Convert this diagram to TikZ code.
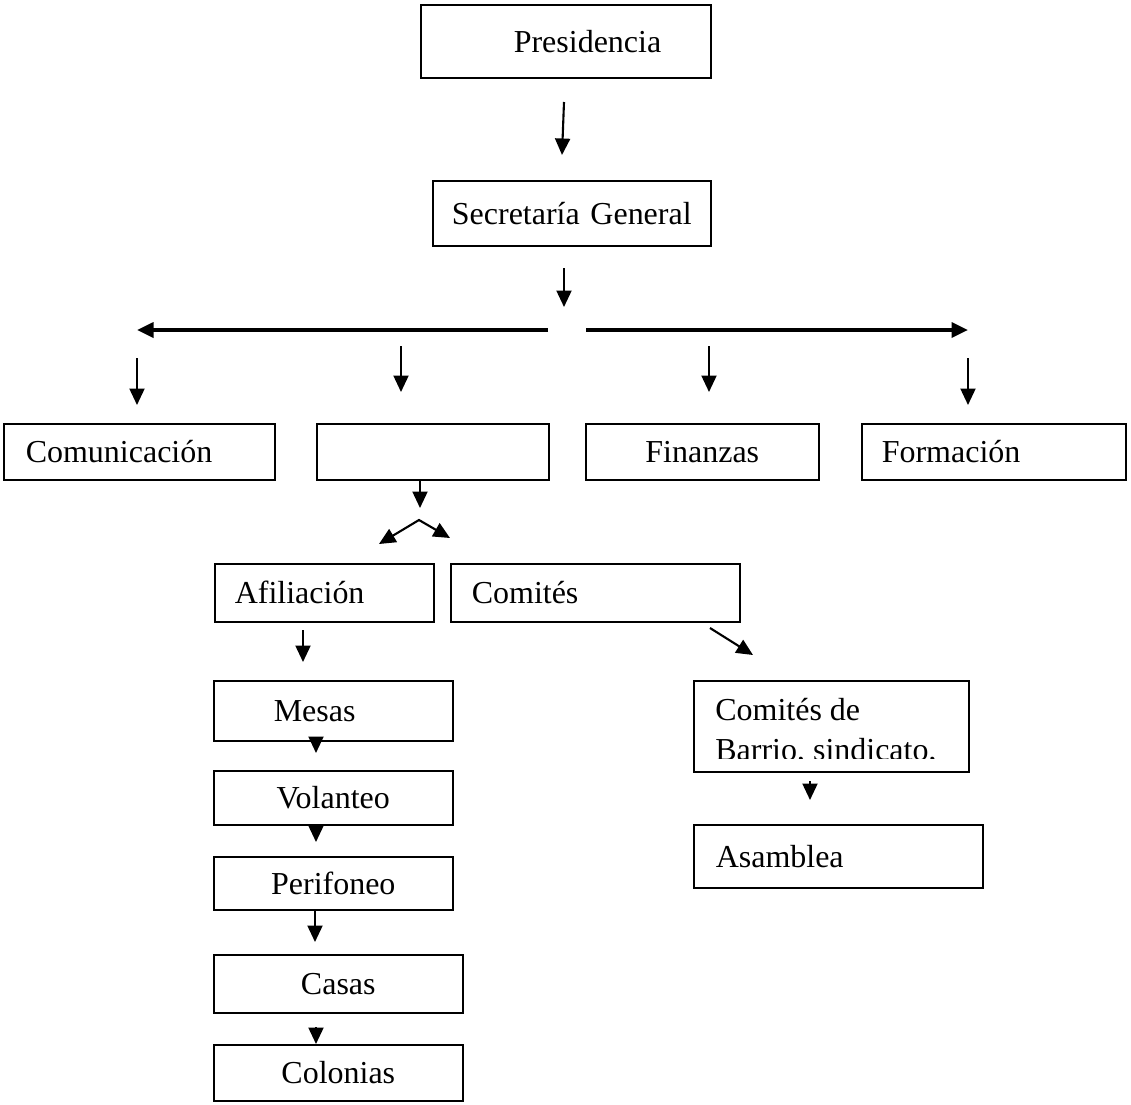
\documentclass[tikz,border=0pt]{standalone}
\usepackage{fontspec}
\setmainfont{Liberation Serif}
\usetikzlibrary{arrows.meta}
\tikzset{
  >={Triangle[width=3mm,length=3.3mm]},
  every node/.style={font=\fontsize{18.2}{23}\selectfont,text=black},
  box/.style={draw=black,line width=0.9pt,anchor=north west,inner ysep=0pt,align=left},
  cbox/.style={box,align=center},
  arr/.style={->,line width=1.2pt},
  bigarr/.style={->,line width=1.9pt}
}
\begin{document}
\begin{tikzpicture}[x=0.2mm,y=-0.2mm]
  \useasboundingbox (0,0) rectangle (1131,1105);

  \node[box,inner xsep=9mm,text width=40mm,minimum height=14.6mm] (pres) at (420,4) {\hspace*{9.6mm}Presidencia};
  \node[cbox,inner xsep=1mm,text width=53.6mm,minimum height=13mm] (secgen) at (432,180) {Secretaría General};

  \node[box,inner xsep=4.4mm,text width=45.4mm,minimum height=11.2mm] (comunic) at (3,423) {Comunicación};
  \node[box,inner sep=0pt,minimum width=46.4mm,minimum height=11.2mm] (blank) at (316,423) {};
  \node[cbox,inner xsep=4mm,text width=38.6mm,minimum height=11.2mm] (finanzas) at (585,423) {Finanzas};
  \node[box,inner xsep=4mm,text width=44.8mm,minimum height=11.2mm] (formacion) at (861,423) {Formación};

  \node[box,inner xsep=4mm,text width=35.8mm,minimum height=11.6mm] (afil) at (214,563) {Afiliación};
  \node[box,inner xsep=4.2mm,text width=49.4mm,minimum height=11.6mm] (comites) at (450,563) {Comités};

  \node[box,inner xsep=12mm,text width=23.8mm,minimum height=12mm] (mesas) at (213,680) {Mesas};
  \node[cbox,inner xsep=4mm,text width=39.8mm,minimum height=10.8mm] (volanteo) at (213,770) {Volanteo};
  \node[cbox,inner xsep=4mm,text width=39.8mm,minimum height=10.6mm] (perifoneo) at (213,856) {Perifoneo};
  \node[cbox,inner xsep=4mm,text width=41.8mm,minimum height=11.6mm] (casas) at (213,954) {Casas};
  \node[cbox,inner xsep=4mm,text width=41.8mm,minimum height=11.2mm] (colonias) at (213,1044) {Colonias};

  \node[box,inner sep=0pt,minimum width=55mm,minimum height=18.2mm] (barrio) at (693,680) {};
  \begin{scope}
    \clip (693,680) rectangle (968,758);
    \node[anchor=north west,align=left,inner sep=0pt,font=\fontsize{18.2}{22.8}\selectfont] (barriotxt) at (715,698) {Comités de\\Barrio, sindicato,};
  \end{scope}
  \node[box,inner xsep=4.4mm,text width=49mm,minimum height=12.6mm] (asamblea) at (693,824) {Asamblea};

  \coordinate (p1) at (564,102);  \coordinate (p2) at (562,155);
  \coordinate (s1) at (564,268);  \coordinate (s2) at (564,307);
  \coordinate (hl1) at (548,330); \coordinate (hl2) at (137,330);
  \coordinate (hr1) at (586,330); \coordinate (hr2) at (968,330);
  \coordinate (d1a) at (137,358); \coordinate (d1b) at (137,405);
  \coordinate (d2a) at (401,346); \coordinate (d2b) at (401,392);
  \coordinate (d3a) at (709,346); \coordinate (d3b) at (709,392);
  \coordinate (d4a) at (968,358); \coordinate (d4b) at (968,405);
  \coordinate (b1) at (420,479);  \coordinate (b2) at (420,508);
  \coordinate (apex) at (419,520);
  \coordinate (brl) at (379,544); \coordinate (brr) at (450,538);
  \coordinate (af1) at (303,630); \coordinate (af2) at (303,662);
  \coordinate (cm1) at (710,628); \coordinate (cm2) at (753,655);
  \coordinate (m1) at (316,737);  \coordinate (m2) at (316,753);
  \coordinate (v1) at (316,824);  \coordinate (v2) at (316,842);
  \coordinate (pf1) at (315,909); \coordinate (pf2) at (315,942);
  \coordinate (c1) at (316,1027); \coordinate (c2) at (316,1044);
  \coordinate (ba1) at (810,781); \coordinate (ba2) at (810,800);

  \draw[arr] (p1)--(p2);
  \draw[arr] (s1)--(s2);
  \draw[bigarr] (hl1)--(hl2);
  \draw[bigarr] (hr1)--(hr2);
  \draw[arr] (d1a)--(d1b);
  \draw[arr] (d2a)--(d2b);
  \draw[arr] (d3a)--(d3b);
  \draw[arr] (d4a)--(d4b);
  \draw[arr] (b1)--(b2);
  \draw[arr,<->] (brl)--(apex)--(brr);
  \draw[arr] (af1)--(af2);
  \draw[arr] (cm1)--(cm2);
  \draw[arr] (m1)--(m2);
  \draw[arr] (v1)--(v2);
  \draw[arr] (pf1)--(pf2);
  \draw[arr] (c1)--(c2);
  \draw[arr] (ba1)--(ba2);
\end{tikzpicture}
\end{document}
